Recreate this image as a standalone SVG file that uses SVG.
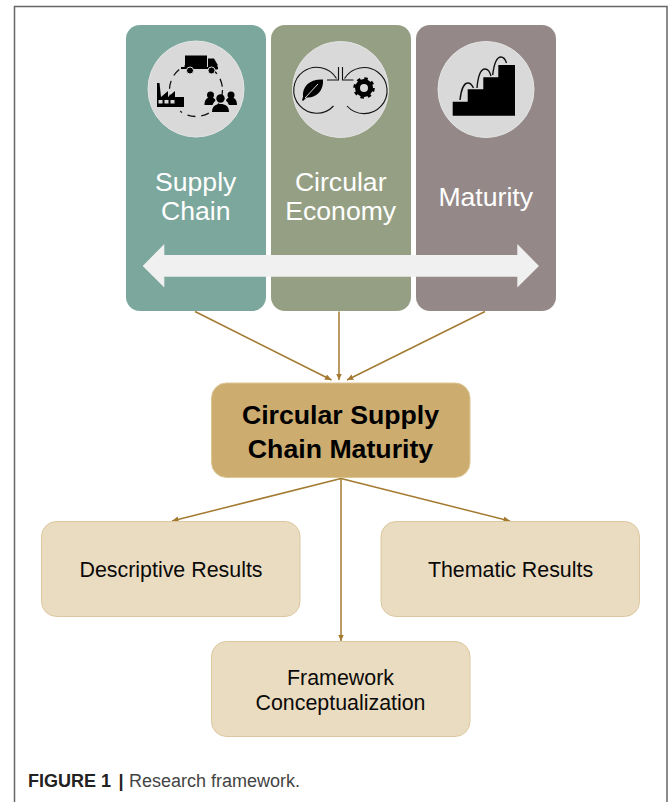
<svg xmlns="http://www.w3.org/2000/svg" width="669" height="802" viewBox="0 0 669 802">
<style>
text{font-family:"Liberation Sans",Arial,sans-serif;text-anchor:middle}
.w{fill:#fff;font-size:26.600px}
.b{fill:#0a0a0a;font-size:21.400px}
.m{fill:#000;font-size:26.700px;font-weight:bold}
.card{fill:#eadcc0;stroke:#dcc89f;stroke-width:1}
.circ{fill:#d9d9d9;stroke:#e4e4e4;stroke-width:1}
.c{stroke:#a37a30;stroke-width:1.500;fill:none;marker-end:url(#ah)}
.ln{stroke:#111;stroke-width:1.100;fill:none}
.st{stroke:#111;stroke-width:1.400;fill:none}
.cap{text-anchor:start;font-size:18px}
</style>
<defs>
<marker id="ah" markerUnits="userSpaceOnUse" markerWidth="8" markerHeight="8" refX="6.5" refY="3" orient="auto"><path d="M0 0L6.5 3L0 6z" fill="#a37a30"/></marker>
</defs>
<rect width="669" height="802" fill="#fff"/>
<path id="frame" d="M14.500 802V6.500H667V802" fill="none" stroke="#666" stroke-width="1.500"/>

<g id="supply-chain">
<rect x="126" y="25" width="140" height="286" rx="14" fill="#7ba79d"/>
<circle class="circ" cx="196" cy="89" r="48"/>
<circle cx="196" cy="90" r="26.500" fill="none" stroke="#111" stroke-width="1.300" stroke-dasharray="8 6"/>
<path d="M185 55.500h22v13h-22z" fill="#000"/>
<path d="M208 58.500h6l3.500 6v5h-9.500z" fill="#000"/>
<path d="M181 67h37v2h-37z" fill="#000"/>
<circle cx="190" cy="70.500" r="3.500" fill="#000" stroke="#d9d9d9"/>
<circle cx="211.500" cy="70.500" r="3.500" fill="#000" stroke="#d9d9d9"/>
<circle cx="172" cy="108" r="9" fill="#d9d9d9"/>
<path d="M157 107V83h2.500l1.500 14 7-6v6l7-6v6h9v10z" fill="#000"/>
<path d="M158.500 100h4v3.500h-4zM164.500 100h4v3.500h-4zM170.500 100h4v3.500h-4z" fill="#d9d9d9"/>
<circle cx="210.500" cy="95" r="3.500" fill="#000"/><circle cx="231" cy="95" r="3.500" fill="#000"/><circle cx="220.500" cy="98.500" r="4.200" fill="#000"/>
<path d="M204.500 105c0-6 3-7.500 6-7.500s4.500 1 5 3c-1.500 1.500-2.500 3-3 4.500zM237 105c0-6-3-7.500-6-7.500s-4.500 1-5 3c1.500 1.500 2.500 3 3 4.500z" fill="#000"/>
<path d="M212 112c0-6 4-8 8.500-8s8.500 2 8.500 8z" fill="#000"/>
<text class="w" x="195.700" y="191">Supply</text>
<text class="w" x="195.700" y="219.500">Chain</text>
</g>

<g id="circular-economy">
<rect x="271" y="25" width="140" height="286" rx="14" fill="#959f83"/>
<circle class="circ" cx="340.500" cy="89.500" r="48"/>
<path class="ln" d="M336.500 78.500A23 23 0 1 0 333.500 106"/>
<path class="ln" d="M344.500 78.500A23 23 0 1 1 347 106"/>
<path class="ln" d="M327 80h11.500v-13M353.500 80h-11v-13"/>
<path d="M303 97c-1-10 6-18 20-17.500c1 12-8 19-16.500 18l-3.500 3.500-1-1z" fill="#000"/>
<path d="M305 98L318 84" stroke="#d9d9d9" stroke-width="1" fill="none"/>
<circle cx="364" cy="88" r="6.500" fill="none" stroke="#000" stroke-width="5"/>
<circle cx="364" cy="88" r="9.500" fill="none" stroke="#000" stroke-width="2.500" stroke-dasharray="3.500 3.960"/>
<text class="w" x="340.700" y="191">Circular</text>
<text class="w" x="340.700" y="219.500">Economy</text>
</g>

<g id="maturity">
<rect x="416" y="25" width="140" height="286" rx="14" fill="#948988"/>
<circle class="circ" cx="486" cy="89.500" r="48"/>
<path d="M452.700 115.700V101.700H467.700V89.300H483.300V77.300H498.300V65H515V115.700z" fill="#000"/>
<path class="st" d="M460 100C461 90 464 83 468 83C470 83 472 85 473.500 88M477 88C478 76 481 69 485 69C488 69 490 72 491 76M492.700 75C494 64 497 57 501 57C504 57 505.500 60 506.500 63"/>
<text class="w" x="485.700" y="205.500">Maturity</text>
</g>

<path id="double-arrow" d="M142.700 266L164.300 244V255H517.300V244L539 266L517.300 287.500V276.700H164.300V287.500z" fill="#f0f0f0"/>

<g id="connectors">
<path class="c" d="M195 311.500L331.500 380"/>
<path class="c" d="M339 311.500V380"/>
<path class="c" d="M485 311.500L347 380"/>
<path class="c" d="M341 478.500L172 521"/>
<path class="c" d="M341 478.500L510 521"/>
<path class="c" d="M341 478V641"/>
</g>

<g id="csc-maturity">
<rect x="211.500" y="383" width="258.500" height="94.500" rx="15" fill="#cdac70" stroke="#dcc694"/>
<text class="m" x="340.500" y="424">Circular Supply</text>
<text class="m" x="340.500" y="458">Chain Maturity</text>
</g>
<g id="descriptive-results">
<rect class="card" x="41.500" y="521.500" width="258.500" height="95" rx="15"/>
<text class="b" x="171" y="577">Descriptive Results</text>
</g>
<g id="thematic-results">
<rect class="card" x="381" y="521.500" width="258.500" height="95" rx="15"/>
<text class="b" x="510.500" y="577">Thematic Results</text>
</g>
<g id="framework">
<rect class="card" x="211.500" y="641.500" width="258.500" height="95" rx="15"/>
<text class="b" x="340.500" y="684.500">Framework</text>
<text class="b" x="340.500" y="710">Conceptualization</text>
</g>

<text id="caption" class="cap" x="28" y="786.500"><tspan font-weight="bold" fill="#222">FIGURE 1</tspan><tspan font-weight="bold" fill="#222" x="118.500">|</tspan><tspan fill="#444" x="129">Research framework.</tspan></text>
</svg>
